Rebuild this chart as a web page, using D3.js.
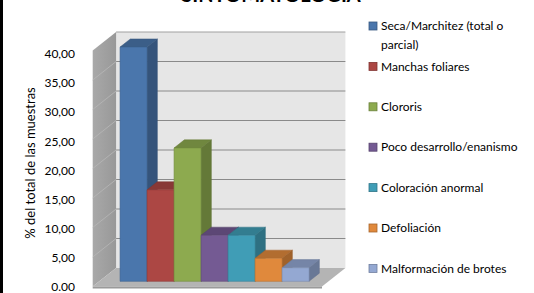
<!DOCTYPE html>
<html>
<head>
<meta charset="utf-8">
<script src="https://cdn.jsdelivr.net/npm/d3@7"></script>
<style>
  body { margin: 0; background: #fff; }
  svg { display: block; font-family: Lato, "Open Sans", sans-serif; }
</style>
</head>
<body>
<div id="chart"></div>
<script>
// data
const symptoms = ["Seca/Marchitez (total o parcial)", "Manchas foliares", "Clororis",
  "Poco desarrollo/enanismo", "Coloración anormal", "Defoliación", "Malformación de brotes"];
const percent = [39.7, 15.5, 22.6, 7.8, 7.8, 3.9, 2.3];
const colors = ["#4A76AC", "#AC4744", "#8DAA4F", "#745A93", "#409DB6", "#E0893C", "#94A8D2"];
const tickValues = [0, 5, 10, 15, 20, 25, 30, 35, 40];
const tickLabels = ["0.00", "5,00", "10,00", "15,00", "20,00", "25,00", "30,00", "35,00", "40,00"];

const W = 534, H = 293;

const svg = d3.select("#chart").append("svg")
  .attr("width", W).attr("height", H);

// front plane of the box, plus depth offset
const yFront = d3.scaleLinear().domain([0, 40]).range([286.5, 50.5]);
const depth = {dx: 23.4, dy: -18.5};
const xFront = [92.7, 322];
const P = (x, v, z) => [x + z * depth.dx, yFront(v) + z * depth.dy];

// back wall
const backTL = P(xFront[0], 40, 1), backBR = P(xFront[1], 0, 1);
svg.append("rect")
  .attr("x", backTL[0]).attr("y", backTL[1])
  .attr("width", backBR[0] - backTL[0]).attr("height", backBR[1] - backTL[1])
  .attr("fill", "#e6e6e6");

// side wall
const sideGrad = svg.append("defs").append("linearGradient")
  .attr("id", "side").attr("x1", 0).attr("x2", 1);
sideGrad.append("stop").attr("offset", 0).attr("stop-color", "#a9a9a9");
sideGrad.append("stop").attr("offset", 1).attr("stop-color", "#989898");
svg.append("polygon")
  .attr("points", [P(xFront[0], 40, 0), P(xFront[0], 40, 1), P(xFront[0], 0, 1), P(xFront[0], 0, 0)].join(" "))
  .attr("fill", "url(#side)");

// floor
svg.append("polygon")
  .attr("points", [P(xFront[0], 0, 0), P(xFront[1], 0, 0), P(xFront[1], 0, 1), P(xFront[0], 0, 1)].join(" "))
  .attr("fill", "#b4b4b4");
svg.append("rect")
  .attr("x", xFront[0]).attr("y", yFront(0))
  .attr("width", xFront[1] - xFront[0]).attr("height", 2)
  .attr("fill", "#9a9a9a");

// gridlines on back wall and side wall
svg.selectAll(".grid")
  .data(tickValues.slice(1))
  .join("line")
  .attr("x1", P(xFront[0], 0, 1)[0]).attr("x2", P(xFront[1], 0, 1)[0])
  .attr("y1", d => P(0, d, 1)[1]).attr("y2", d => P(0, d, 1)[1])
  .attr("stroke", d => d === 40 ? "#a0a0a0" : "#8a8a8a").attr("stroke-width", 1);

svg.selectAll(".sgrid")
  .data(tickValues.slice(1, -1))
  .join("line")
  .attr("x1", d => P(xFront[0], d, 0)[0]).attr("y1", d => P(xFront[0], d, 0)[1])
  .attr("x2", d => P(xFront[0], d, 1)[0]).attr("y2", d => P(xFront[0], d, 1)[1])
  .attr("stroke", "#b8b8b8").attr("stroke-width", 0.8);

// bars: front plane at z=0.28, depth 0.44
const x = d3.scaleBand().domain(symptoms).range([113.5, 302.5]).padding(0);
const zF = 0.28, zB = 0.72;

const bars = svg.selectAll(".bar")
  .data(symptoms.map((s, i) => ({s, v: percent[i], c: colors[i]})))
  .join("g");

bars.append("polygon") // side
  .attr("points", d => {
    const x1 = x(d.s) + x.bandwidth();
    return [P(x1, d.v, zF), P(x1, d.v, zB), P(x1, 0, zB), P(x1, 0, zF)].join(" ");
  })
  .attr("fill", d => d3.color(d.c).darker(0.95))
  .attr("stroke", d => d3.color(d.c).darker(1.1)).attr("stroke-width", 0.5);

bars.append("polygon") // top
  .attr("points", d => {
    const x0 = x(d.s), x1 = x0 + x.bandwidth();
    return [P(x0, d.v, zF), P(x1, d.v, zF), P(x1, d.v, zB), P(x0, d.v, zB)].join(" ");
  })
  .attr("fill", d => d3.color(d.c).darker(0.65))
  .attr("stroke", d => d3.color(d.c).darker(0.9)).attr("stroke-width", 0.5);

bars.append("polygon") // front
  .attr("points", d => {
    const x0 = x(d.s), x1 = x0 + x.bandwidth();
    return [P(x0, d.v, zF), P(x1, d.v, zF), P(x1, 0, zF), P(x0, 0, zF)].join(" ");
  })
  .attr("fill", d => d.c)
  .attr("stroke", d => d3.color(d.c).darker(0.5)).attr("stroke-width", 0.6);

// y tick labels
const yLab = d3.scaleLinear().domain([0, 40]).range([287, 54]);
svg.selectAll(".ylab")
  .data(tickValues)
  .join("text")
  .attr("x", 75).attr("y", d => yLab(d))
  .attr("dy", "0.35em")
  .attr("text-anchor", "end")
  .attr("font-size", 12)
  .attr("fill", "#000")
  .text((d, i) => tickLabels[i]);

// y axis title
svg.append("text")
  .attr("transform", "translate(35,163) rotate(-90)")
  .attr("text-anchor", "middle")
  .attr("font-size", 13)
  .attr("fill", "#000")
  .text("% del total de las muestras");

// chart title (mostly cut off at top)
svg.append("text")
  .attr("x", 271).attr("y", 2)
  .attr("text-anchor", "middle")
  .attr("font-size", 20).attr("font-weight", "bold")
  .text("SINTOMATOLOGÍA");

// legend
const legY = [26, 66.4, 106.8, 147.2, 187.6, 228, 268.4];
const leg = svg.selectAll(".leg")
  .data(symptoms)
  .join("g")
  .attr("transform", (d, i) => `translate(369,${legY[i]})`);
leg.append("rect")
  .attr("x", 0).attr("y", -4).attr("width", 8).attr("height", 8)
  .attr("fill", (d, i) => colors[i])
  .attr("stroke", (d, i) => d3.color(colors[i]).darker(0.8)).attr("stroke-width", 0.8);
leg.append("text")
  .attr("x", 12).attr("dy", "0.35em")
  .attr("font-size", 12)
  .each(function(d, i) {
    const t = d3.select(this);
    if (i === 0) {
      t.append("tspan").attr("x", 12).text("Seca/Marchitez (total o");
      t.append("tspan").attr("x", 12).attr("dy", 19).text("parcial)");
    } else {
      t.text(d);
    }
  });

// black border at left
svg.append("rect").attr("x", 0).attr("y", 0).attr("width", 3).attr("height", H).attr("fill", "#000");
</script>
</body>
</html>
